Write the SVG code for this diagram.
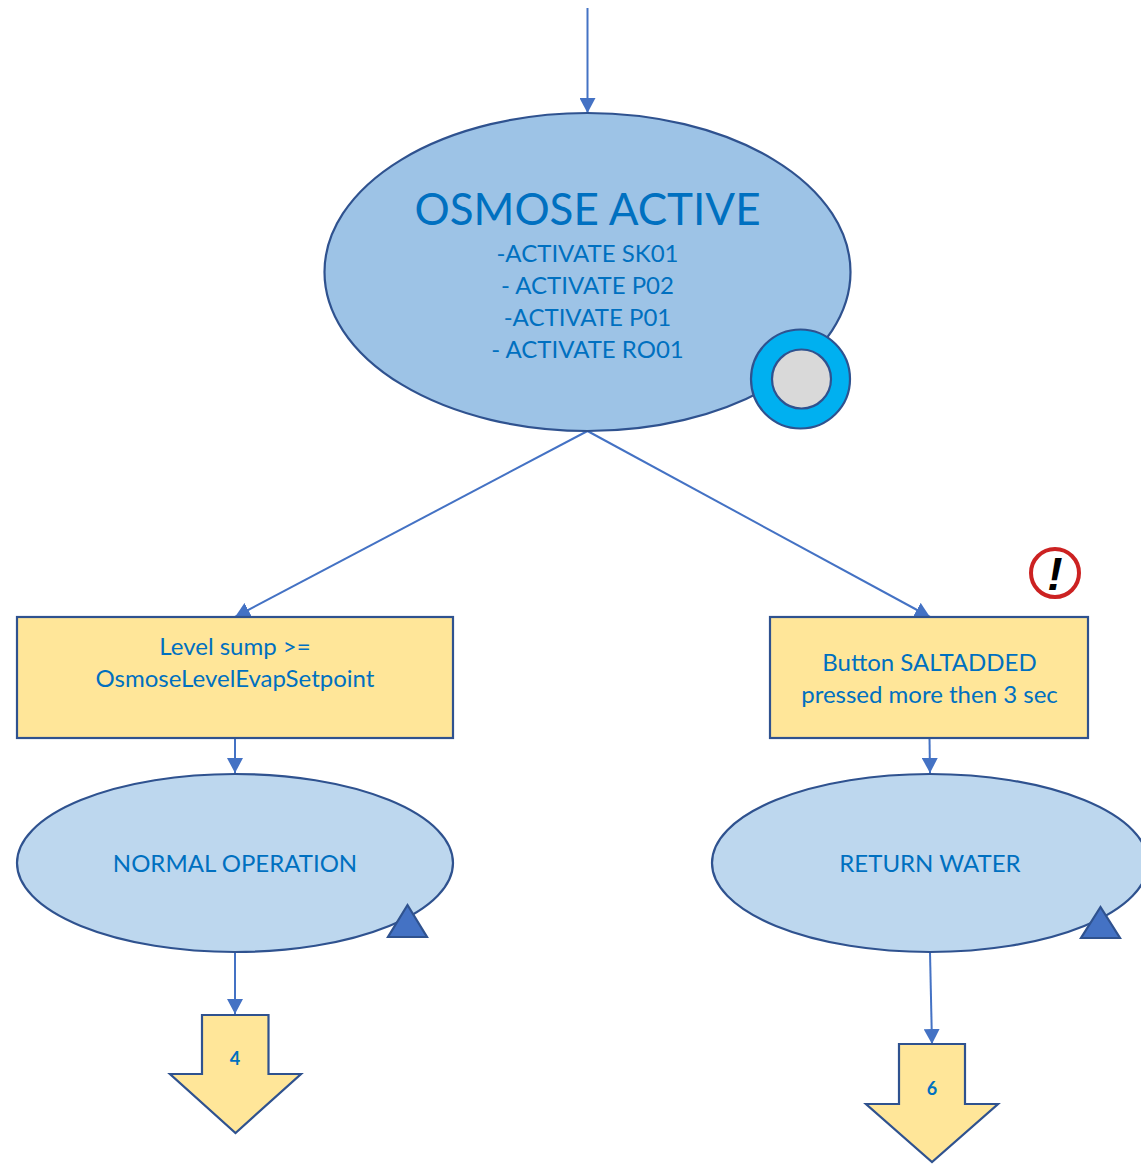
<svg xmlns="http://www.w3.org/2000/svg" width="1141" height="1164" viewBox="0 0 1141 1164">
<style>
.s{stroke:#2F528F;stroke-width:2.2}
.c{stroke:#4472C4;stroke-width:2;fill:none}
.t{font-family:Lato,"Liberation Sans",sans-serif;fill:#0070C0;text-anchor:middle}
.m{font-size:24px}
</style>
<defs>
<marker id="a" markerUnits="userSpaceOnUse" markerWidth="16" markerHeight="16" refX="15" refY="8" orient="auto"><path d="M0 0L15 8L0 16Z" fill="#4472C4"/></marker>
</defs>
<rect width="1141" height="1164" fill="#fff"/>
<g id="connectors">
<path class="c" marker-end="url(#a)" d="M587.500 8V113"/>
<path class="c" marker-end="url(#a)" d="M587.500 431L235 617"/>
<path class="c" marker-end="url(#a)" d="M587.500 431L930 617"/>
<path class="c" marker-end="url(#a)" d="M235 738V773"/>
<path class="c" marker-end="url(#a)" d="M929.500 738L930 773"/>
<path class="c" marker-end="url(#a)" d="M235 952V1014"/>
<path class="c" marker-end="url(#a)" d="M930 952L932 1044"/>
</g>
<g id="osmose-active">
<ellipse class="s" cx="587.500" cy="272" rx="263" ry="159" fill="#9DC3E6"/>
<text class="t" x="587.500" y="225" font-size="44">OSMOSE ACTIVE</text>
<text class="t m" x="587.500" y="262">-ACTIVATE SK01</text>
<text class="t m" x="587.500" y="294">- ACTIVATE P02</text>
<text class="t m" x="587.500" y="326">-ACTIVATE P01</text>
<text class="t m" x="587.500" y="358">- ACTIVATE RO01</text>
<circle class="s" cx="800.500" cy="379" r="49.500" fill="#00B0F0"/>
<circle class="s" cx="801.500" cy="379" r="29.500" fill="#D9D9D9"/>
</g>
<g id="level-sump">
<rect class="s" x="17" y="617" width="436" height="121" fill="#FFE699"/>
<text class="t m" x="235" y="655">Level sump &gt;=</text>
<text class="t m" x="235" y="687">OsmoseLevelEvapSetpoint</text>
</g>
<g id="button-saltadded">
<rect class="s" x="770" y="617" width="318" height="121" fill="#FFE699"/>
<text class="t m" x="929.500" y="671">Button SALTADDED</text>
<text class="t m" x="929.500" y="703">pressed more then 3 sec</text>
</g>
<g id="warning-icon">
<circle cx="1055" cy="573" r="24" fill="#fff" stroke="#CC2222" stroke-width="4"/>
<text x="1055" y="590" font-family="'Liberation Sans',sans-serif" font-weight="bold" font-style="italic" font-size="46" text-anchor="middle" fill="#000">!</text>
</g>
<g id="normal-operation">
<ellipse class="s" cx="235" cy="863" rx="218" ry="89" fill="#BDD7EE"/>
<text class="t m" x="235" y="872">NORMAL OPERATION</text>
<path class="s" d="M407.500 905L427 937H388Z" fill="#4472C4"/>
</g>
<g id="return-water">
<ellipse class="s" cx="930" cy="863" rx="218" ry="89" fill="#BDD7EE"/>
<text class="t m" x="930" y="872">RETURN WATER</text>
<path class="s" d="M1100.500 907L1120 938H1081Z" fill="#4472C4"/>
</g>
<g id="off-page-4">
<path class="s" d="M202 1015H268.500V1074H301L235.500 1133L170 1074H202Z" fill="#FFE699"/>
<text class="t" x="235" y="1065" font-size="18" font-weight="bold">4</text>
</g>
<g id="off-page-6">
<path class="s" d="M899 1044H965V1104H998L932 1162L866 1104H899Z" fill="#FFE699"/>
<text class="t" x="932" y="1095" font-size="18" font-weight="bold">6</text>
</g>
</svg>
